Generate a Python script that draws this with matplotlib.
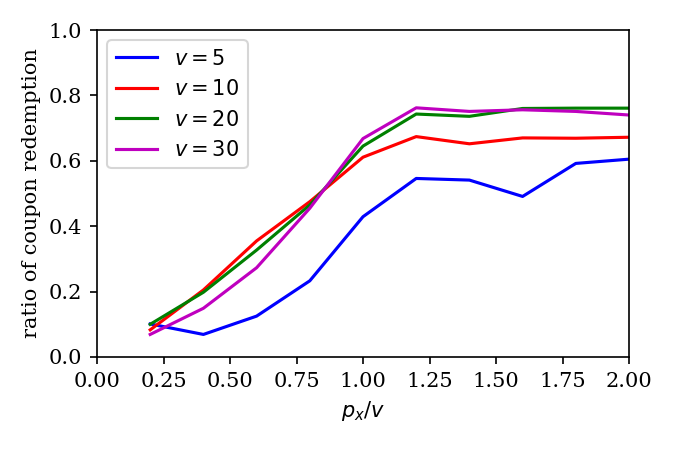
import matplotlib
matplotlib.use("Agg")
import matplotlib.pyplot as plt

plt.rcParams['font.family'] = 'DejaVu Serif'
plt.rcParams['mathtext.fontset'] = 'dejavusans'
plt.rcParams['font.size'] = 10

x = [0.2, 0.4, 0.6, 0.8, 1.0, 1.2, 1.4, 1.6, 1.8, 2.0]
v5 = [0.101, 0.069, 0.125, 0.233, 0.429, 0.546, 0.541, 0.491, 0.592, 0.605]
v10 = [0.083, 0.205, 0.355, 0.475, 0.611, 0.674, 0.652, 0.670, 0.669, 0.672]
v20 = [0.100, 0.198, 0.327, 0.465, 0.645, 0.743, 0.736, 0.760, 0.761, 0.761]
v30 = [0.069, 0.149, 0.273, 0.455, 0.668, 0.762, 0.751, 0.756, 0.751, 0.740]

series = [(v5, 'b', r'$v = 5$'), (v10, 'r', r'$v = 10$'),
          (v20, 'g', r'$v = 20$'), (v30, 'm', r'$v = 30$')]

fig = plt.figure(figsize=(4.5, 3), dpi=150)
ax = fig.add_axes([97/675, 1-357/450, (629-97)/675, (357-30)/450])
for ys, c, lab in series:
    ax.plot(x, ys, color=c, label=lab)
ax.set_xlim(0, 2.0)
ax.set_ylim(0, 1.0)
ax.set_xticks([0, 0.25, 0.5, 0.75, 1.0, 1.25, 1.5, 1.75, 2.0])
ax.set_xlabel(r'$p_x/v$')
ax.set_ylabel('ratio of coupon redemption')
ax.legend(loc='upper left', prop={'family': 'DejaVu Sans'})
fig.savefig('out.png', dpi=150)
